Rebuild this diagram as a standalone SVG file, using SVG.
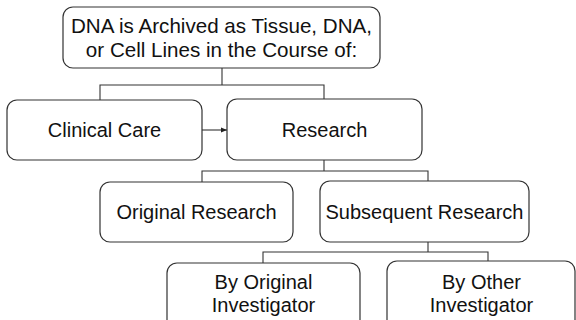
<svg xmlns="http://www.w3.org/2000/svg" width="576" height="320" viewBox="0 0 576 320">
<defs>
<style>
.box{fill:#fff;stroke:#333;stroke-width:1.2}
.t{font-family:"Liberation Sans",Arial,sans-serif;font-size:20px;fill:#111;text-anchor:middle}
.big{font-size:20.6px}
.c{fill:none;stroke:#333;stroke-width:1.1}
</style>
<marker id="ah" viewBox="0 0 10 10" refX="10" refY="5" markerWidth="6" markerHeight="6" orient="auto" markerUnits="userSpaceOnUse">
<path d="M0,1 L10,5 L0,9 z" fill="#222"/>
</marker>
</defs>
<rect width="576" height="320" fill="#fff"/>
<g id="connectors">
<path class="c" d="M222,68 V85 M100,100 V85 H324 V99"/>
<path class="c" d="M202,130 H227" marker-end="url(#ah)"/>
<path class="c" d="M324,160 V171 M202,182 V171 H428 V181"/>
<path class="c" d="M428,242 V252 M263,263 V252 H488 V261"/>
</g>
<g id="top">
<rect class="box" x="63" y="7" width="317" height="61" rx="10"/>
<text class="t big" x="221.5" y="32.5">DNA is Archived as Tissue, DNA,</text>
<text class="t big" x="221.5" y="56.5">or Cell Lines in the Course of:</text>
</g>
<g id="clinical">
<rect class="box" x="7" y="100" width="195" height="60" rx="10"/>
<text class="t" x="104.5" y="137">Clinical Care</text>
</g>
<g id="research">
<rect class="box" x="227" y="99" width="195" height="61" rx="10"/>
<text class="t" x="324.5" y="137">Research</text>
</g>
<g id="original">
<rect class="box" x="100" y="182" width="193" height="60" rx="10"/>
<text class="t" x="196.5" y="219">Original Research</text>
</g>
<g id="subsequent">
<rect class="box" x="320" y="181" width="209" height="61" rx="10"/>
<text class="t" x="424.5" y="219">Subsequent Research</text>
</g>
<g id="byoriginal">
<rect class="box" x="167" y="263" width="193" height="70" rx="10"/>
<text class="t" x="263.5" y="289">By Original</text>
<text class="t" x="263.5" y="312">Investigator</text>
</g>
<g id="byother">
<rect class="box" x="387" y="261" width="188" height="72" rx="10"/>
<text class="t" x="481.5" y="289">By Other</text>
<text class="t" x="481.5" y="312">Investigator</text>
</g>
</svg>
